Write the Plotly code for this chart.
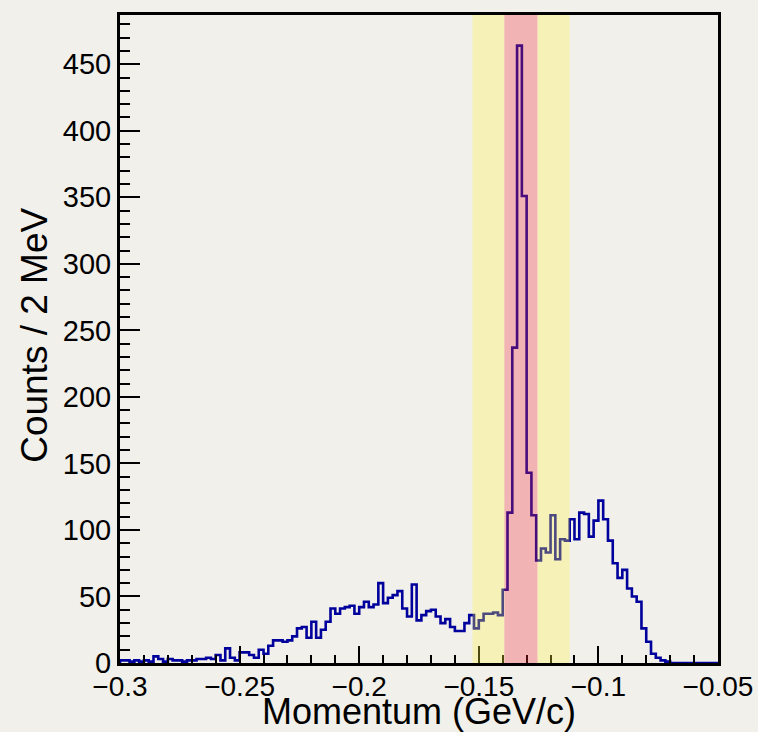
import numpy as np
import plotly.graph_objects as go

# Histogram binning: 2 MeV bins from -0.30 to -0.05 GeV/c
momentum_low = -0.30
momentum_high = -0.05
bin_width = 0.002

# Counts per 2 MeV bin (125 bins)
counts = [
    2, 2, 1, 2, 1, 2, 1, 5, 3, 1,
    3, 2, 2, 1, 2, 2, 3, 3, 4, 3,
    6, 2, 11, 4, 2, 8, 8, 6, 4, 10,
    7, 13, 17, 17, 16, 17, 20, 26, 27, 19,
    31, 19, 25, 31, 41, 37, 41, 42, 43, 37,
    42, 46, 42, 44, 60, 45, 49, 51, 54, 41,
    35, 59, 32, 36, 39, 40, 35, 30, 33, 27,
    24, 24, 30, 36, 26, 32, 37, 37, 38, 36,
    55, 113, 237, 464, 351, 143, 111, 77, 86, 83,
    111, 78, 93, 92, 108, 93, 113, 112, 95, 107,
    122, 108, 92, 75, 64, 70, 56, 50, 46, 26,
    16, 7, 4, 2, 1, 0, 0, 0, 0, 0,
    0, 0, 0, 0, 0,
]

# Selection windows in momentum (GeV/c)
outer_window = [-0.1526, -0.1120]
inner_window = [-0.1393, -0.1255]

x_ticks = [-0.3, -0.25, -0.2, -0.15, -0.1, -0.05]
y_ticks = [0, 50, 100, 150, 200, 250, 300, 350, 400, 450]

x_title = "Momentum (GeV/c)"
y_title = "Counts / 2 MeV"

n_bins = len(counts)
edges = momentum_low + bin_width * np.arange(n_bins + 1)

# Outline of the histogram as a step path
step_x = [edges[0]] + list(edges[:-1]) + [edges[-1]]
step_y = [0] + list(counts) + [0]

FONT = "Liberation Sans, Arial, Helvetica, sans-serif"
BG = "#f2f0eb"

fig = go.Figure()
fig.add_trace(go.Scatter(
    x=step_x, y=step_y, mode="lines",
    line=dict(shape="hv", color="#00009c", width=2.6),
    hoverinfo="skip", showlegend=False,
))

# Translucent bands drawn over the histogram
yellow = "rgba(255,245,60,0.30)"
red = "rgba(240,40,50,0.30)"
for x0, x1, col in [
    (outer_window[0], inner_window[0], yellow),
    (inner_window[1], outer_window[1], yellow),
    (inner_window[0], inner_window[1], red),
]:
    fig.add_shape(type="rect", xref="x", yref="paper", x0=x0, x1=x1, y0=0, y1=1,
                  fillcolor=col, line=dict(width=0), layer="above")

fig.update_layout(
    width=758, height=732,
    margin=dict(l=120, r=40, t=15, b=69),
    paper_bgcolor=BG, plot_bgcolor=BG,
    font=dict(family=FONT, color="black"),
    showlegend=False,
)

fig.update_xaxes(
    range=[momentum_low, momentum_high], automargin=False,
    tickvals=x_ticks, ticks="inside", ticklen=17, tickwidth=2, tickcolor="black",
    minor=dict(ticks="inside", ticklen=8, tickwidth=2, tickcolor="black", dtick=0.01, tick0=-0.3),
    showline=True, linecolor="black", linewidth=3, mirror=True,
    showgrid=False, zeroline=False,
    tickfont=dict(size=28, family=FONT), ticklabelstandoff=-4,
)
fig.update_yaxes(
    range=[0, 487], automargin=False,
    tickvals=y_ticks, ticks="inside", ticklen=20, tickwidth=2, tickcolor="black",
    minor=dict(ticks="inside", ticklen=10, tickwidth=2, tickcolor="black", dtick=10, tick0=0),
    showline=True, linecolor="black", linewidth=3, mirror=True,
    showgrid=False, zeroline=False,
    tickfont=dict(size=29, family=FONT),
)

# Axis titles
fig.add_annotation(text=x_title, xref="paper", yref="paper", x=0.5, y=-0.0755,
                   xanchor="center", yanchor="middle", showarrow=False,
                   font=dict(size=36, family=FONT))
fig.add_annotation(text=y_title, xref="paper", yref="paper", x=-0.142, y=0.505,
                   xanchor="center", yanchor="middle", textangle=-90, showarrow=False,
                   font=dict(size=37, family=FONT))

fig.write_html("out.html")
